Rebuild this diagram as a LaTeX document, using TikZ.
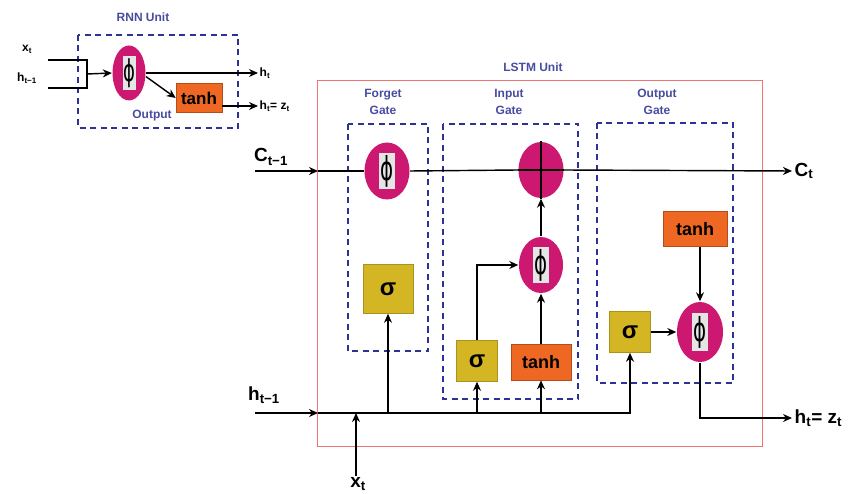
\documentclass[tikz,border=0pt]{standalone}
\usepackage{fontspec}
\setmainfont{Liberation Sans}
\newfontfamily\phifont{DejaVu Sans}
\usepackage{graphicx}
\usetikzlibrary{shapes.geometric,arrows.meta}
\definecolor{gatepink}{RGB}{204,24,112}
\definecolor{sigyellow}{RGB}{212,182,36}
\definecolor{tanhorange}{RGB}{238,104,36}
\definecolor{gateblue}{RGB}{46,50,150}
\definecolor{lblblue}{RGB}{72,76,160}
\definecolor{unitred}{RGB}{236,116,116}
\newcommand{\phiglyph}{\scalebox{0.9}[1.5]{\phifont ϕ}}
\tikzset{
  phiell/.style={ellipse, fill=gatepink, minimum width=45, minimum height=57, inner sep=0},
  phibar/.style={fill=black!10, minimum width=16, minimum height=36, inner sep=0, font=\fontsize{22}{22}\selectfont},
  sigbox/.style={fill=sigyellow, draw=sigyellow!80!black, line width=0.6pt, minimum width=41, minimum height=41, inner sep=0, font=\bfseries\fontsize{24}{24}\selectfont},
  tanhbox/.style={fill=tanhorange, draw=tanhorange!75!black, line width=0.6pt, inner sep=0, font=\bfseries\fontsize{18}{18}\selectfont},
  gatebox/.style={draw=gateblue, line width=1.6pt, dash pattern=on 6pt off 4.5pt},
  gatelbl/.style={text=lblblue, align=center, font=\bfseries\fontsize{12}{17}\selectfont},
  smalllbl/.style={font=\bfseries\fontsize{12}{12}\selectfont},
  biglbl/.style={font=\bfseries\fontsize{19}{19}\selectfont}
}
\begin{document}
\begin{tikzpicture}[x=1pt, y=-1pt, line width=0.5mm, >={Stealth[length=9pt,width=8pt]}]
    \useasboundingbox (0,0) rectangle (862,494);
    % RNN unit
    \node[gatelbl] (rnnlbl) at (143,17) {RNN Unit};
    \draw[gatebox] (78,35) rectangle (238,128);
    \node[smalllbl] (rxlbl) at (27,49) {x\textsubscript{t}};
    \node[smalllbl] (rhlbl) at (27,78) {h\textsubscript{t−1}};
    \coordinate (rxa) at (48,60);
    \coordinate (rha) at (48,88);
    \coordinate (rj) at (87,74);
    \draw (rxa) -- (rxa -| rj) -- (rha -| rj) -- (rha);
    \node[phiell, minimum width=33, minimum height=55] (rphi) at (129,73) {};
    \node[phibar, minimum width=13, minimum height=34, font=\fontsize{20}{20}\selectfont] at (rphi) {\phiglyph};
    \draw[->] (rj) -- (rphi.west);
    \node[tanhbox, minimum width=46, minimum height=29, font=\bfseries\fontsize{17}{17}\selectfont] (rtanh) at (199,98) {tanh};
    \coordinate (rht) at (258,73);
    \coordinate (rhz) at (258,106);
    \draw[->] (rphi.east) -- (rht);
    \draw[->] (rphi.-12) -- (rtanh.west);
    \draw[->] (rtanh.east |- rhz) -- (rhz);
    \node[smalllbl, anchor=west, inner sep=1pt] (rhtlbl) at (rht) {h\textsubscript{t}};
    \node[smalllbl, anchor=west, inner sep=1pt] (rhzlbl) at (rhz) {h\textsubscript{t}= z\textsubscript{t}};
    \node[gatelbl] (outlbl) at (152,116) {Output};
    % LSTM unit
    \node[gatelbl] (lstmlbl) at (533,67) {LSTM Unit};
    \draw[unitred, line width=0.7pt] (317,80) rectangle (762,446);
    \draw[gatebox] (348,124) rectangle (428,351);
    \node[gatelbl] (fglbl) at (383,102) {Forget\\Gate};
    \draw[gatebox] (443,124) rectangle (578,399);
    \node[gatelbl] (iglbl) at (509,102) {Input\\Gate};
    \draw[gatebox] (597,123) rectangle (733,383);
    \node[gatelbl] (oglbl) at (657,102) {Output\\Gate};
    % cell state line
    \node[biglbl] (clbl) at (271,157) {C\textsubscript{t−1}};
    \coordinate (cin) at (255,171);
    \coordinate (cedge) at (318,171);
    \coordinate (cout) at (792,171);
    \node[phiell] (fphi) at (387,171) {};
    \node[phibar] at (fphi) {\phiglyph};
    \node[phiell, minimum height=56] (csum) at (541,170) {};
    \draw[->] (cin) -- (cedge);
    \draw (cedge) -- (fphi.west);
    \draw (fphi.east) -- (csum.west);
    \draw (csum.north) -- (csum.south);
    \draw (csum.west) -- (csum.east);
    \draw[->] (csum.east) -- (cout);
    \node[biglbl, anchor=west, inner sep=2pt] (ctlbl) at (cout) {C\textsubscript{t}};
    % gates
    \node[sigbox, minimum width=50, minimum height=49] (fsig) at (388,289) {σ};
    \node[sigbox] (isig) at (477,361) {σ};
    \node[tanhbox, minimum width=60, minimum height=36] (itanh) at (541,362) {tanh};
    \node[phiell, minimum width=44, minimum height=56] (iphi) at (541,265) {};
    \node[phibar] at (iphi) {\phiglyph};
    \node[tanhbox, minimum width=64, minimum height=35] (otanh) at (695,229) {tanh};
    \node[phiell, minimum width=46, minimum height=60] (ophi) at (700,332) {};
    \node[phibar, minimum height=38] at (ophi) {\phiglyph};
    \node[sigbox] (osig) at (630,332) {σ};
    \draw[->] (isig.north) |- (iphi.west);
    \draw[->] (itanh.north) -- (iphi.south);
    \draw[->] (iphi.north) -- (csum.south);
    \draw[->] (otanh.south -| ophi) -- (ophi.north);
    \draw[->] (osig.east) -- (ophi.west);
    % hidden state and input
    \node[biglbl] (hlbl) at (264,395) {h\textsubscript{t−1}};
    \coordinate (hin) at (255,413);
    \coordinate (hedge) at (318,413);
    \coordinate (xin) at (356,476);
    \coordinate (hout) at (792,418);
    \draw[->] (hin) -- (hedge);
    \draw[->] (hedge) -- (osig.south |- hedge) -- (osig.south);
    \draw[->] (fsig.south |- hedge) -- (fsig.south);
    \draw[->] (isig.south |- hedge) -- (isig.south);
    \draw[->] (itanh.south |- hedge) -- (itanh.south);
    \draw[->] (xin) -- (xin |- hedge);
    \node[biglbl, fill=white, inner sep=1pt] (xlbl) at (358,484) {x\textsubscript{t}};
    \draw[->] (ophi.south) |- (hout);
    \node[biglbl, anchor=west, inner sep=2pt] (hzlbl) at (hout) {h\textsubscript{t}= z\textsubscript{t}};
\end{tikzpicture}
\end{document}
